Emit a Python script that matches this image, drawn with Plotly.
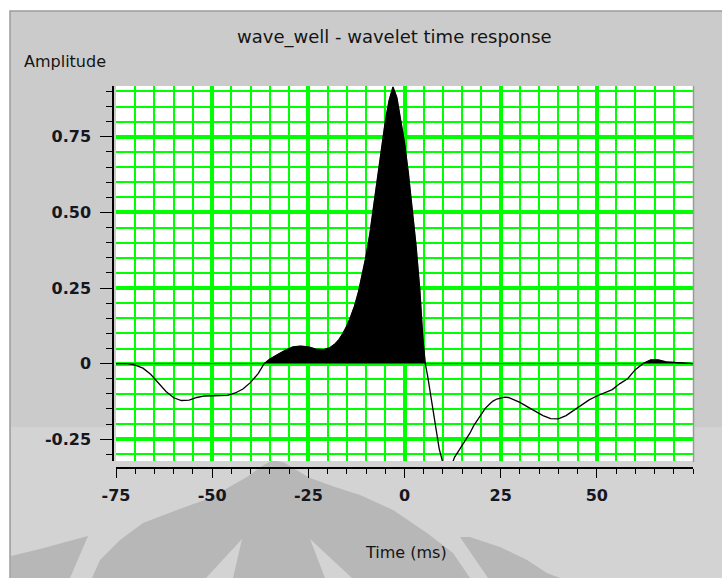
import numpy as np
import plotly.graph_objects as go

# Wavelet time response (time in ms, amplitude)
time_ms = [-75, -72, -70, -68, -66, -64, -62, -60, -58, -56, -54, -52, -50, -48, -46,
           -44, -42, -40, -38, -36.5, -35, -33, -31, -29, -27, -25, -23, -21, -19.5,
           -18, -17, -16, -15, -14, -13, -12, -11, -10, -9, -8, -7, -6, -5, -4, -3,
           -2, -1, 0, 1, 2, 3, 4, 4.8, 5.4, 6, 7, 8, 9, 10, 11, 12, 13, 14, 15, 16,
           17, 18, 19, 20, 21, 22, 23, 24, 25, 26, 27, 28, 30, 32, 34, 36, 38, 40,
           42, 44, 46, 48, 50, 52, 54, 56, 58, 60, 62, 64, 66, 68, 70, 72, 75]
amplitude = [0.0, 0.0, -0.005, -0.015, -0.035, -0.065, -0.092, -0.113, -0.122, -0.121,
             -0.112, -0.107, -0.106, -0.106, -0.105, -0.097, -0.084, -0.062, -0.032, 0.0,
             0.015, 0.03, 0.044, 0.055, 0.058, 0.055, 0.048, 0.046, 0.052, 0.066, 0.08,
             0.1, 0.124, 0.155, 0.19, 0.235, 0.29, 0.355, 0.43, 0.52, 0.615, 0.71, 0.8,
             0.87, 0.915, 0.88, 0.81, 0.73, 0.63, 0.52, 0.39, 0.24, 0.08, 0.0, -0.04,
             -0.12, -0.2, -0.28, -0.33, -0.355, -0.345, -0.31, -0.29, -0.27, -0.25,
             -0.23, -0.205, -0.185, -0.165, -0.148, -0.135, -0.124, -0.117, -0.113,
             -0.111, -0.112, -0.117, -0.128, -0.143, -0.158, -0.172, -0.182, -0.183,
             -0.172, -0.155, -0.138, -0.12, -0.107, -0.097, -0.086, -0.066, -0.05,
             -0.02, 0.0, 0.012, 0.012, 0.006, 0.004, 0.002, 0.0]

x_tickvals = [-75, -50, -25, 0, 25, 50]
x_ticktext = ["-75", "-50", "-25", "0", "25", "50"]
y_tickvals = [-0.25, 0, 0.25, 0.5, 0.75]
y_ticktext = ["-0.25", "0", "0.25", "0.50", "0.75"]

W, H = 722, 578
ML, MR, MT, MB = 113, 29, 86, 110
PW, PH = W - ML - MR, H - MT - MB

FONT = "DejaVu Sans"
GREEN = "#00ff00"
PANEL = "#cbcbcb"
PANEL_LOW = "#d3d3d3"
EMBLEM = "#b7b7b7"


def to_paper(px, py):
    return (px - ML) / PW, (H - MB - py) / PH


def poly_path(points):
    pts = [to_paper(px, py) for px, py in points]
    return "M " + " L ".join(f"{x:.4f},{y:.4f}" for x, y in pts) + " Z"


def rect(x0, y0, x1, y1, fill, line_color=None, line_width=0):
    a = to_paper(x0, y0)
    b = to_paper(x1, y1)
    return dict(type="rect", xref="paper", yref="paper", layer="below",
                x0=a[0], y0=b[1], x1=b[0], y1=a[1], fillcolor=fill,
                line=dict(color=line_color or fill, width=line_width))


amp = np.array(amplitude)
pos = np.maximum(amp, 0.0)

fig = go.Figure()
fig.add_trace(go.Scatter(x=time_ms, y=pos, mode="lines", fill="tozeroy",
                         fillcolor="black", line=dict(color="black", width=0.5),
                         hoverinfo="skip", showlegend=False))
fig.add_trace(go.Scatter(x=time_ms, y=amplitude, mode="lines",
                         line=dict(color="black", width=1.3), showlegend=False))

x_dom0 = (116 - ML) / PW
y_dom0 = (H - MB - 461) / PH

# window panel, lower lighter band and background emblem
shapes = [
    rect(10, 11, 730, 590, PANEL, "#9c9c9c", 1.5),
    rect(11, 427, 730, 590, PANEL_LOW),
    dict(type="path", xref="paper", yref="paper", layer="below", fillcolor=EMBLEM,
         line=dict(width=0),
         path=poly_path([(92, 578), (100, 560), (120, 540), (143, 523), (177, 510),
                         (210, 498), (247, 477), (262, 466), (273, 460), (285, 463),
                         (293, 468), (310, 478), (335, 487), (360, 495), (393, 510),
                         (427, 533), (453, 553), (470, 578)])),
    dict(type="path", xref="paper", yref="paper", layer="below", fillcolor=PANEL_LOW,
         line=dict(width=0),
         path=poly_path([(242, 539), (233, 578), (206, 578)])),
    dict(type="path", xref="paper", yref="paper", layer="below", fillcolor=PANEL_LOW,
         line=dict(width=0),
         path=poly_path([(310, 539), (352, 578), (325, 578)])),
    dict(type="path", xref="paper", yref="paper", layer="below", fillcolor=EMBLEM,
         line=dict(width=0),
         path=poly_path([(11, 556), (40, 549), (88, 536), (70, 578), (11, 578)])),
    dict(type="path", xref="paper", yref="paper", layer="below", fillcolor=EMBLEM,
         line=dict(width=0),
         path=poly_path([(460, 537), (470, 537), (500, 547), (527, 560), (547, 573),
                         (560, 578), (488, 578)])),
    rect(116, 86, 693, 461, "white"),
    dict(type="line", xref="paper", yref="paper", layer="above",
         x0=to_paper(693.5, 0)[0], x1=to_paper(693.5, 0)[0],
         y0=to_paper(0, 86)[1], y1=to_paper(0, 462)[1],
         line=dict(color="#9a9a9a", width=1.5)),
]

tick_font = dict(family=FONT, size=16, color="#16161f", weight="bold")

fig.update_layout(
    width=W, height=H,
    margin=dict(l=ML, r=MR, t=MT, b=MB, pad=0),
    paper_bgcolor="white",
    plot_bgcolor="white",
    showlegend=False,
    shapes=shapes,
    xaxis=dict(
        domain=[x_dom0, 1], anchor="free", position=0,
        range=[-75, 75], tickmode="array", tickvals=x_tickvals, ticktext=x_ticktext,
        ticks="outside", ticklen=9, tickwidth=1.3, tickcolor="black",
        showline=True, linecolor="black", linewidth=1.5, zeroline=False,
        showgrid=True, gridcolor=GREEN, gridwidth=3.5,
        minor=dict(tickmode="linear", tick0=0, dtick=5, ticks="outside", ticklen=5,
                   tickwidth=1.2, tickcolor="black", showgrid=True,
                   gridcolor=GREEN, gridwidth=2),
        tickfont=tick_font, ticklabelstandoff=4,
    ),
    yaxis=dict(
        domain=[y_dom0, 1], anchor="free", position=0,
        range=[-0.322, 0.918], tickmode="array", tickvals=y_tickvals, ticktext=y_ticktext,
        ticks="outside", ticklen=12, tickwidth=1.3, tickcolor="black",
        showline=True, linecolor="black", linewidth=1.5, zeroline=False,
        showgrid=True, gridcolor=GREEN, gridwidth=3.5,
        minor=dict(tickmode="linear", tick0=0, dtick=0.05, ticks="outside", ticklen=6,
                   tickwidth=1.2, tickcolor="black", showgrid=True,
                   gridcolor=GREEN, gridwidth=2),
        tickfont=tick_font, ticklabelstandoff=6,
    ),
    annotations=[
        dict(text="wave_well - wavelet time response", xref="paper", yref="paper",
             x=to_paper(394, 0)[0], y=to_paper(0, 37)[1], xanchor="center",
             yanchor="middle", showarrow=False,
             font=dict(family=FONT, size=18, color="#141414")),
        dict(text="Amplitude", xref="paper", yref="paper",
             x=to_paper(22, 0)[0], y=to_paper(0, 62)[1], xanchor="left",
             yanchor="middle", showarrow=False,
             font=dict(family=FONT, size=16, color="#141414")),
        dict(text="Time (ms)", xref="paper", yref="paper",
             x=to_paper(406, 0)[0], y=to_paper(0, 552)[1], xanchor="center",
             yanchor="middle", showarrow=False,
             font=dict(family=FONT, size=16, color="#141414")),
    ],
)

fig.write_html("out.html")
